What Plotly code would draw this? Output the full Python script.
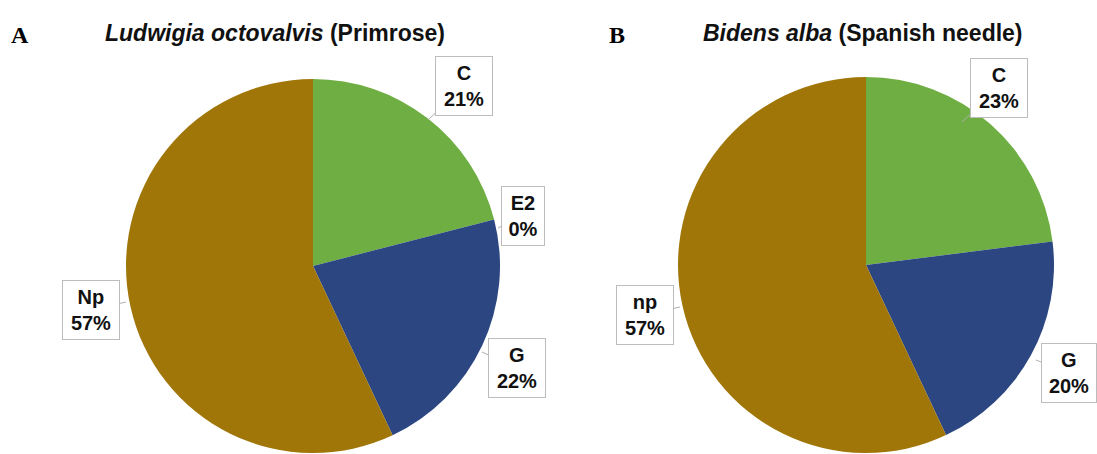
import plotly.graph_objects as go

W, H = 1097, 454

# Panel A: Ludwigia octovalvis (Primrose)
labels_a = ["C", "E2", "G", "Np"]
values_a = [21, 0, 22, 57]

# Panel B: Bidens alba (Spanish needle)
labels_b = ["C", "G", "np"]
values_b = [23, 20, 57]

colour_map = {"C": "#6fae42", "E2": "#c0504d", "G": "#2c4682", "Np": "#a07608", "np": "#a07608"}


def px(x, y):
    """Pixel position -> paper coordinates."""
    return x / W, 1 - y / H


fig = go.Figure()

# pie discs, placed by pixel bounds (left, top, right, bottom)
for labs, vals, (l, t, r, b) in [
    (labels_a, values_a, (126, 79, 500, 453)),
    (labels_b, values_b, (678, 77, 1054, 453)),
]:
    x0, y1 = px(l, t)
    x1, y0 = px(r, b)
    fig.add_trace(go.Pie(
        labels=labs, values=vals, sort=False, direction="clockwise", rotation=0,
        textinfo="none", hoverinfo="label+percent", showlegend=False,
        marker=dict(colors=[colour_map[k] for k in labs], line=dict(width=0)),
        domain=dict(x=[x0, x1], y=[y0, y1]),
    ))

# callout boxes: (box centre px, pointer tip px, box text width)
callouts_a = {"C": ((464, 86), (428, 120), 50), "E2": ((523, 216), (498, 228), 36),
              "G": ((517, 368), (482, 352), 50), "Np": ((91, 310), (126, 302), 50)}
callouts_b = {"C": ((999, 88), (962, 122), 50), "G": ((1069, 373), (1036, 360), 48),
              "np": ((645, 315), (680, 307), 50)}

font_lbl = dict(family="Liberation Sans, Arial, sans-serif", size=20, color="#111111")
for labs, vals, cal in [(labels_a, values_a, callouts_a), (labels_b, values_b, callouts_b)]:
    tot = sum(vals)
    for lab, v in zip(labs, vals):
        (bx, by), (tx, ty), w = cal[lab]
        pct = round(100 * v / tot)
        xt, yt = px(tx, ty)
        fig.add_annotation(
            x=xt, y=yt, xref="paper", yref="paper",
            ax=bx - tx, ay=by - ty, axref="pixel", ayref="pixel",
            showarrow=True, arrowhead=0, arrowwidth=1, arrowcolor="#b0b0b0",
            text=f"<b>{lab}</b><br><b>{pct}%</b>", font=font_lbl,
            align="center", width=w, height=52,
            bgcolor="white", bordercolor="#bcbcbc", borderwidth=1, borderpad=3,
        )

# titles
font_title = dict(family="Liberation Sans, Arial, sans-serif", size=23, color="#111111")
for text, (x, y) in [
    ("<b><i>Ludwigia octovalvis</i> (Primrose)</b>", (275, 33)),
    ("<b><i>Bidens alba</i> (Spanish needle)</b>", (863, 33)),
]:
    xp, yp = px(x, y)
    fig.add_annotation(x=xp, y=yp, xref="paper", yref="paper", text=text,
                       showarrow=False, font=font_title, xanchor="center", yanchor="middle")

# panel letters
font_letter = dict(family="Liberation Serif, Times New Roman, serif", size=24, color="#000000")
for text, (x, y) in [("A", (20, 35)), ("B", (617, 35))]:
    xp, yp = px(x, y)
    fig.add_annotation(x=xp, y=yp, xref="paper", yref="paper", text=f"<b>{text}</b>",
                       showarrow=False, font=font_letter, xanchor="center", yanchor="middle")

fig.update_layout(
    width=W, height=H, autosize=False,
    margin=dict(l=0, r=0, t=0, b=0),
    paper_bgcolor="white", plot_bgcolor="white",
)

fig.write_html("out.html")
